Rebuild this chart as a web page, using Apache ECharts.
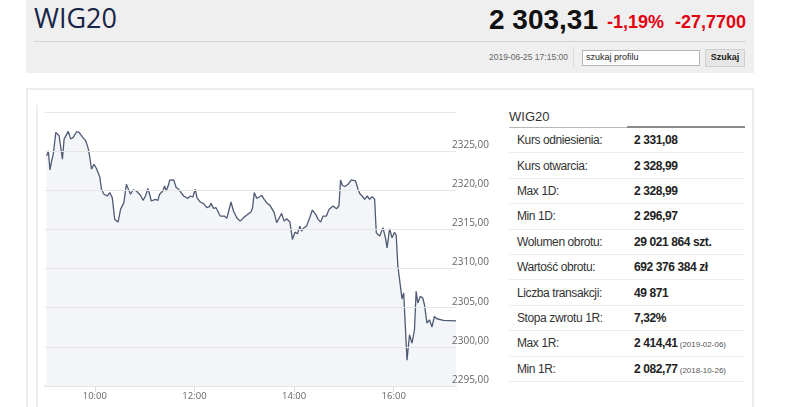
<!DOCTYPE html>
<html><head><meta charset="utf-8">
<script src="https://cdn.jsdelivr.net/npm/echarts@6/dist/echarts.min.js"></script>
<style>
html,body{margin:0;padding:0;background:#fff;width:786px;height:407px;overflow:hidden;font-family:Arial,"Liberation Sans",sans-serif;}
.a{position:absolute;white-space:nowrap;line-height:1;}
#tbl{position:absolute;left:509px;top:128px;width:236px;border-collapse:collapse;}
#tbl td{height:24.4px;border-bottom:1px solid #ececec;padding:0;font-size:12px;letter-spacing:-0.4px;color:#333;}
#tbl td.l{padding-left:8px;width:117px;}
#tbl td.v{font-weight:bold;color:#222;}
#tbl small{font-weight:normal;font-size:8px;color:#555;letter-spacing:0;}
</style></head>
<body>
<div class="a" style="left:26px;top:0;width:728px;height:73px;background:#efefef;"></div>
<div class="a" style="left:34px;top:4px;font-family:'Open Sans',sans-serif;font-size:27px;color:#172548;">WIG20</div>
<div class="a" style="left:489px;top:6px;font-size:28px;font-weight:bold;color:#111;">2 303,31</div>
<div class="a" style="left:607px;top:13px;font-size:18px;font-weight:bold;color:#e3000f;">-1,19%</div>
<div class="a" style="left:675px;top:13px;font-size:18px;font-weight:bold;color:#e3000f;">-27,7700</div>
<div class="a" style="left:34px;top:41px;width:712px;height:1px;background:#d3d3d3;"></div>
<div class="a" style="left:489px;top:53px;font-size:8.5px;color:#666;">2019-06-25 17:15:00</div>
<div class="a" style="left:573px;top:47px;width:1px;height:20px;background:#dcdcdc;"></div>
<div class="a" style="left:582px;top:50px;width:116px;height:14px;border:1px solid #b5b5b5;background:#fff;"></div>
<div class="a" style="left:586px;top:53px;font-size:9px;color:#222;">szukaj profilu</div>
<div class="a" style="left:705px;top:49px;width:38px;height:16px;border:1px solid #cfcfcf;background:#e6e6e6;"></div>
<div class="a" style="left:705px;top:53px;width:40px;text-align:center;font-size:9px;font-weight:bold;color:#222;">Szukaj</div>

<div class="a" style="left:26px;top:88px;width:728px;height:2px;background:#ececec;"></div>
<div class="a" style="left:26px;top:88px;width:2px;height:319px;background:#ececec;"></div>
<div class="a" style="left:752px;top:88px;width:2px;height:319px;background:#ececec;"></div>
<div class="a" style="left:36px;top:105px;width:2px;height:302px;background:#eeeeee;"></div>

<div class="a" style="left:509px;top:110px;font-size:13px;color:#333;">WIG20</div>
<div class="a" style="left:509px;top:127px;width:118px;height:1px;background:#b8b8b8;"></div>
<div class="a" style="left:627px;top:126px;width:118px;height:2px;background:#8a8a8a;"></div>
<table id="tbl"></table>

<div id="chart" style="position:absolute;left:0;top:0;width:500px;height:407px;"></div>
<script>
var times = ['09:02','09:04','09:06','09:08','09:10','09:13','09:15','09:17','09:21','09:23',
'09:24','09:28','09:31','09:34','09:38','09:41','09:45','09:49','09:52','09:54',
'09:56','09:59','10:02','10:06','10:08','10:11','10:15','10:18','10:21','10:24',
'10:26','10:28','10:31','10:35','10:38','10:40','10:43','10:46','10:50','10:55',
'10:58','11:01','11:04','11:06','11:08','11:10','11:13','11:16','11:18','11:22',
'11:24','11:26','11:29','11:30','11:32','11:35','11:38','11:41','11:43','11:47',
'11:49','11:52','11:55','11:58','12:01','12:03','12:07','12:11','12:13','12:15',
'12:18','12:20','12:23','12:26','12:28','12:31','12:33','12:36','12:39','12:41',
'12:44','12:47','12:51','12:55','12:56','13:00','13:04','13:08','13:10','13:12',
'13:15','13:18','13:21','13:24','13:28','13:31','13:36','13:39','13:40','13:45',
'13:48','13:51','13:55','13:58','14:01','14:04','14:07','14:09','14:12','14:15',
'14:18','14:22','14:26','14:29','14:32','14:35','14:37','14:39','14:42','14:44',
'14:47','14:49','14:51','14:54','14:56','14:58','15:01','15:05','15:09','15:14',
'15:17','15:19','15:22','15:25','15:28','15:31','15:34','15:37','15:39','15:43',
'15:47','15:50','15:52','15:55','15:58','16:01','16:03','16:05','16:07','16:10',
'16:12','16:16','16:19','16:22','16:25','16:27','16:29','16:32','16:35','16:37',
'16:40','16:43','16:46','16:49','16:52','17:00','17:15'];
var prices = [2324.40,2325.04,2322.60,2323.76,2324.62,2327.40,2327.53,2326.96,2323.98,2326.54,
2326.32,2327.53,2326.54,2326.76,2327.48,2327.40,2326.83,2326.32,2325.35,2324.19,
2322.69,2323.33,2322.78,2321.71,2320.13,2319.49,2319.27,2319.71,2319.06,2316.28,
2316.50,2315.94,2317.56,2318.42,2320.77,2320.99,2319.49,2320.04,2319.91,2319.36,
2318.72,2319.27,2320.22,2319.49,2318.63,2318.85,2318.85,2318.72,2319.49,2319.91,
2320.55,2319.91,2320.77,2321.28,2321.06,2321.32,2320.35,2320.13,2319.91,2319.27,
2319.49,2318.97,2319.27,2319.14,2320.13,2319.06,2318.50,2318.30,2318.08,2317.78,
2317.91,2318.33,2317.69,2317.78,2317.35,2316.71,2316.92,2316.71,2316.41,2316.63,
2318.50,2317.35,2316.50,2316.06,2316.03,2316.58,2316.92,2317.22,2317.78,2319.71,
2318.97,2319.14,2319.36,2318.85,2318.30,2318.08,2317.14,2315.86,2315.64,2317.05,
2316.06,2316.37,2315.94,2313.72,2314.65,2314.45,2315.42,2314.78,2315.22,2315.42,
2316.28,2317.47,2316.92,2316.28,2315.94,2316.71,2316.92,2316.71,2317.56,2317.35,
2317.99,2318.21,2317.65,2317.99,2321.32,2320.64,2320.48,2320.77,2321.32,2321.19,
2320.13,2319.58,2319.27,2318.85,2319.27,2318.85,2319.19,2318.85,2314.58,2314.14,
2315.22,2313.94,2312.65,2315.09,2313.94,2314.65,2314.23,2310.30,2310.09,2306.12,
2306.88,2298.29,2301.54,2300.47,2302.18,2307.09,2305.60,2306.45,2306.24,2305.38,
2303.04,2303.46,2302.53,2303.88,2303.59,2303.37,2303.31];
var xTickLabels = ['10:00','12:00','14:00','16:00'];
var sessionStart = '09:00', sessionEnd = '17:15';
var yMin = 2295, yMax = 2330, yStep = 5;

var statLabels = ['Kurs odniesienia:','Kurs otwarcia:','Max 1D:','Min 1D:','Wolumen obrotu:','Wartość obrotu:','Liczba transakcji:','Stopa zwrotu 1R:','Max 1R:','Min 1R:'];
var statValues = ['2 331,08','2 328,99','2 328,99','2 296,97','29 021 864 szt.','692 376 384 zł','49 871','7,32%','2 414,41','2 082,77'];
var statNotes = ['','','','','','','','','(2019-02-06)','(2018-10-26)'];

var tbl = document.getElementById('tbl');
statLabels.forEach(function(l,i){
  var tr = document.createElement('tr');
  var a = document.createElement('td'); a.className='l'; a.textContent=l;
  var b = document.createElement('td'); b.className='v'; b.textContent=statValues[i];
  if(statNotes[i]){ var s=document.createElement('small'); s.textContent=' '+statNotes[i]; b.appendChild(s); }
  tr.appendChild(a); tr.appendChild(b); tbl.appendChild(tr);
});

function toMin(s){ var p=s.split(':'); return +p[0]*60 + +p[1]; }
function fmtMin(m){ var h=Math.floor(m/60), mm=m%60; return (h<10?'0':'')+h+':'+(mm<10?'0':'')+mm; }
var data = times.map(function(t,i){ return [toMin(t), prices[i]]; });

var chart = echarts.init(document.getElementById('chart'), null, {renderer:'canvas'});
chart.setOption({
  animation:false,
  grid:{left:45, top:112, width:411, height:274, containLabel:false},
  xAxis:{
    type:'value', min:toMin(sessionStart), max:toMin(sessionEnd),
    axisLine:{show:true, lineStyle:{color:'#d5dae3', width:1.5}},
    axisTick:{show:true, customValues:xTickLabels.map(toMin), length:6, lineStyle:{color:'#d5dae3'}},
    axisLabel:{customValues:xTickLabels.map(toMin), formatter:function(v){return fmtMin(v);}, color:'#666', fontSize:9.5, margin:5, fontFamily:'"Open Sans",sans-serif'},
    splitLine:{show:false}
  },
  yAxis:{
    type:'value', position:'right', min:yMin, max:yMax, interval:yStep, z:5,
    axisLine:{show:false}, axisTick:{show:false},
    axisLabel:{showMaxLabel:false, formatter:function(v){return v.toFixed(2).replace('.',',');}, color:'#666', fontSize:10, margin:-4, verticalAlign:'bottom', padding:[0,0,1,0], fontFamily:'"Open Sans",sans-serif'},
    splitLine:{show:true, lineStyle:{color:'#e6e6e6', width:1}}
  },
  series:[{
    type:'line', data:data, showSymbol:false, symbol:'none',
    lineStyle:{color:'#4e5b73', width:1.3},
    areaStyle:{color:'#f4f5f8', origin:'start', opacity:1},
    z:2
  }]
});
</script>
</body></html>
